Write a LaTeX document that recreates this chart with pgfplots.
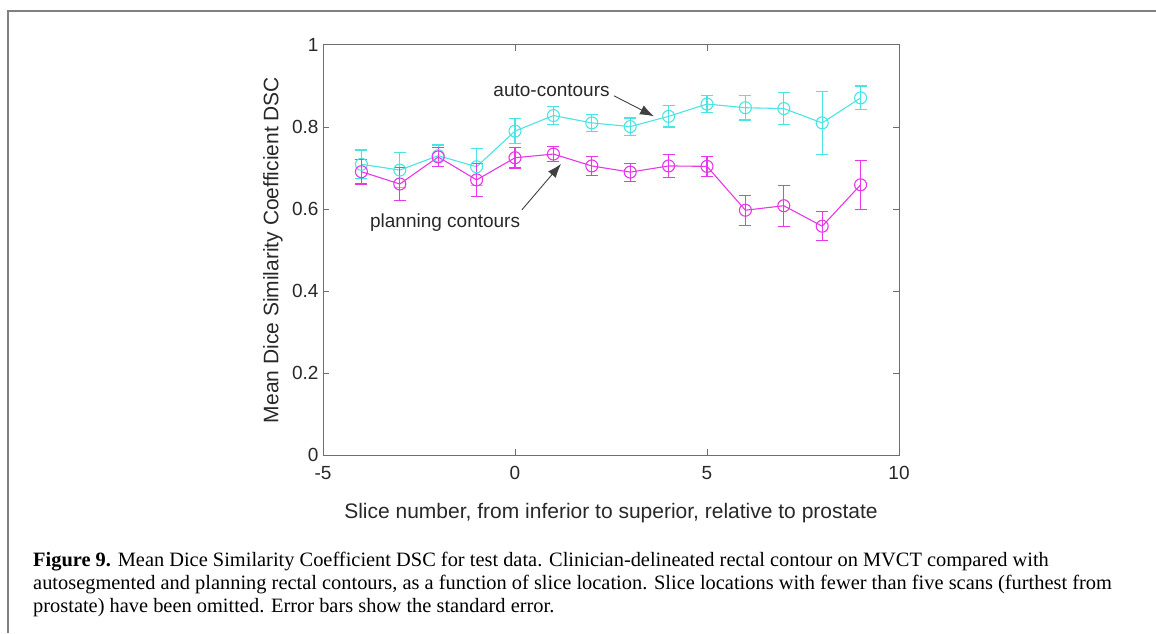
\documentclass[border=0pt]{standalone}
\usepackage{pgfplots}
\pgfplotsset{compat=1.18}
\usepackage{fontspec}
\setmainfont{Liberation Sans}
\newfontfamily\capfont{Liberation Serif}
\usetikzlibrary{arrows.meta}
\definecolor{autoc}{RGB}{75,228,228}
\definecolor{planc}{RGB}{232,55,232}
\definecolor{axgray}{RGB}{110,110,110}
\definecolor{txt}{RGB}{40,40,40}
\begin{document}
\begin{tikzpicture}
\useasboundingbox (0,0) rectangle (1156pt,633pt);
\draw[color={rgb,255:red,128;green,128;blue,128}, line width=2pt] (8pt,0pt) -- (8pt,622pt) -- (1160pt,622pt);
\begin{axis}[
  at={(323pt,178pt)}, anchor=south west,
  width=576pt, height=410pt, scale only axis,
  xmin=-5, xmax=10, ymin=0, ymax=1,
  xtick={-5,0,5,10}, xticklabels={-5,0,5,10},
  ytick={0,0.2,0.4,0.6,0.8,1}, yticklabels={0,0.2,0.4,0.6,0.8,1},
  tick align=inside, major tick length=6pt,
  axis line style={axgray, line width=1pt},
  every tick/.style={axgray, line width=1pt},
  tick label style={font=\fontsize{19}{22}\selectfont, text=txt},
  xticklabel style={yshift=-8pt},
  yticklabel style={xshift=-1pt},
  xlabel={Slice number, from inferior to superior, relative to prostate},
  ylabel={Mean Dice Similarity Coefficient DSC},
  label style={font=\fontsize{21}{24}\selectfont, text=txt},
  xlabel style={at={(axis description cs:0.5,-0.1415)}, anchor=center},
  ylabel style={at={(axis description cs:-0.087,0.5)}, anchor=center},
  clip=false,
]
\addplot[draw=autoc, line width=1.1pt, mark=o, mark size=6pt, mark options={solid, draw=autoc, line width=1.1pt},
  error bars/.cd, y dir=both, y explicit, error mark=-, error mark options={rotate=90, mark size=6pt, line width=1.1pt, draw=autoc},
  error bar style={line width=1.1pt, draw=autoc}]
coordinates {
(-4,0.709) +- (0,0.035)
(-3,0.695) +- (0,0.042)
(-2,0.730) +- (0,0.026)
(-1,0.703) +- (0,0.045)
(0,0.790) +- (0,0.030)
(1,0.828) +- (0,0.022)
(2,0.810) +- (0,0.021)
(3,0.801) +- (0,0.021)
(4,0.826) +- (0,0.026)
(5,0.856) +- (0,0.021)
(6,0.847) +- (0,0.030)
(7,0.845) +- (0,0.040)
(8,0.810) +- (0,0.077)
(9,0.871) +- (0,0.029)
};
\addplot[draw=planc, line width=1.1pt, mark=o, mark size=6pt, mark options={solid, draw=planc, line width=1.1pt},
  error bars/.cd, y dir=both, y explicit, error mark=-, error mark options={rotate=90, mark size=6pt, line width=1.1pt, draw=planc},
  error bar style={line width=1.1pt, draw=planc}]
coordinates {
(-4,0.691) +- (0,0.030)
(-3,0.661) +- (0,0.040)
(-2,0.727) +- (0,0.023)
(-1,0.671) +- (0,0.040)
(0,0.725) +- (0,0.025)
(1,0.734) +- (0,0.019)
(2,0.705) +- (0,0.024)
(3,0.690) +- (0,0.022)
(4,0.705) +- (0,0.028)
(5,0.704) +- (0,0.024)
(6,0.597) +- (0,0.037)
(7,0.608) +- (0,0.050)
(8,0.558) +- (0,0.035)
(9,0.659) +- (0,0.060)
};
\node[anchor=east, font=\fontsize{19}{22}\selectfont, text=txt, inner sep=0pt] at (axis cs:2.47,0.888) {auto-contours};
\draw[black!75, line width=0.9pt, -{Latex[length=14pt,width=10pt]}] (axis cs:2.58,0.876) -- (axis cs:3.62,0.826);
\node[anchor=center, font=\fontsize{19}{22}\selectfont, text=txt, inner sep=0pt] at (axis cs:-1.82,0.566) {planning contours};
\draw[black!75, line width=0.9pt, -{Latex[length=14pt,width=10pt]}] (axis cs:0.18,0.598) -- (axis cs:1.20,0.710);
\end{axis}
\begin{scope}[every node/.style={anchor=base west, inner sep=0pt, font=\capfont\fontsize{20.4}{23}\selectfont}]
\node at (33pt,67pt) {\textbf{Figure 9.} Mean Dice Similarity Coefficient DSC for test data. Clinician-delineated rectal contour on MVCT compared with};
\node at (33pt,44pt) {autosegmented and planning rectal contours, as a function of slice location. Slice locations with fewer than five scans (furthest from};
\node at (33pt,21pt) {prostate) have been omitted. Error bars show the standard error.};
\end{scope}
\end{tikzpicture}
\end{document}
